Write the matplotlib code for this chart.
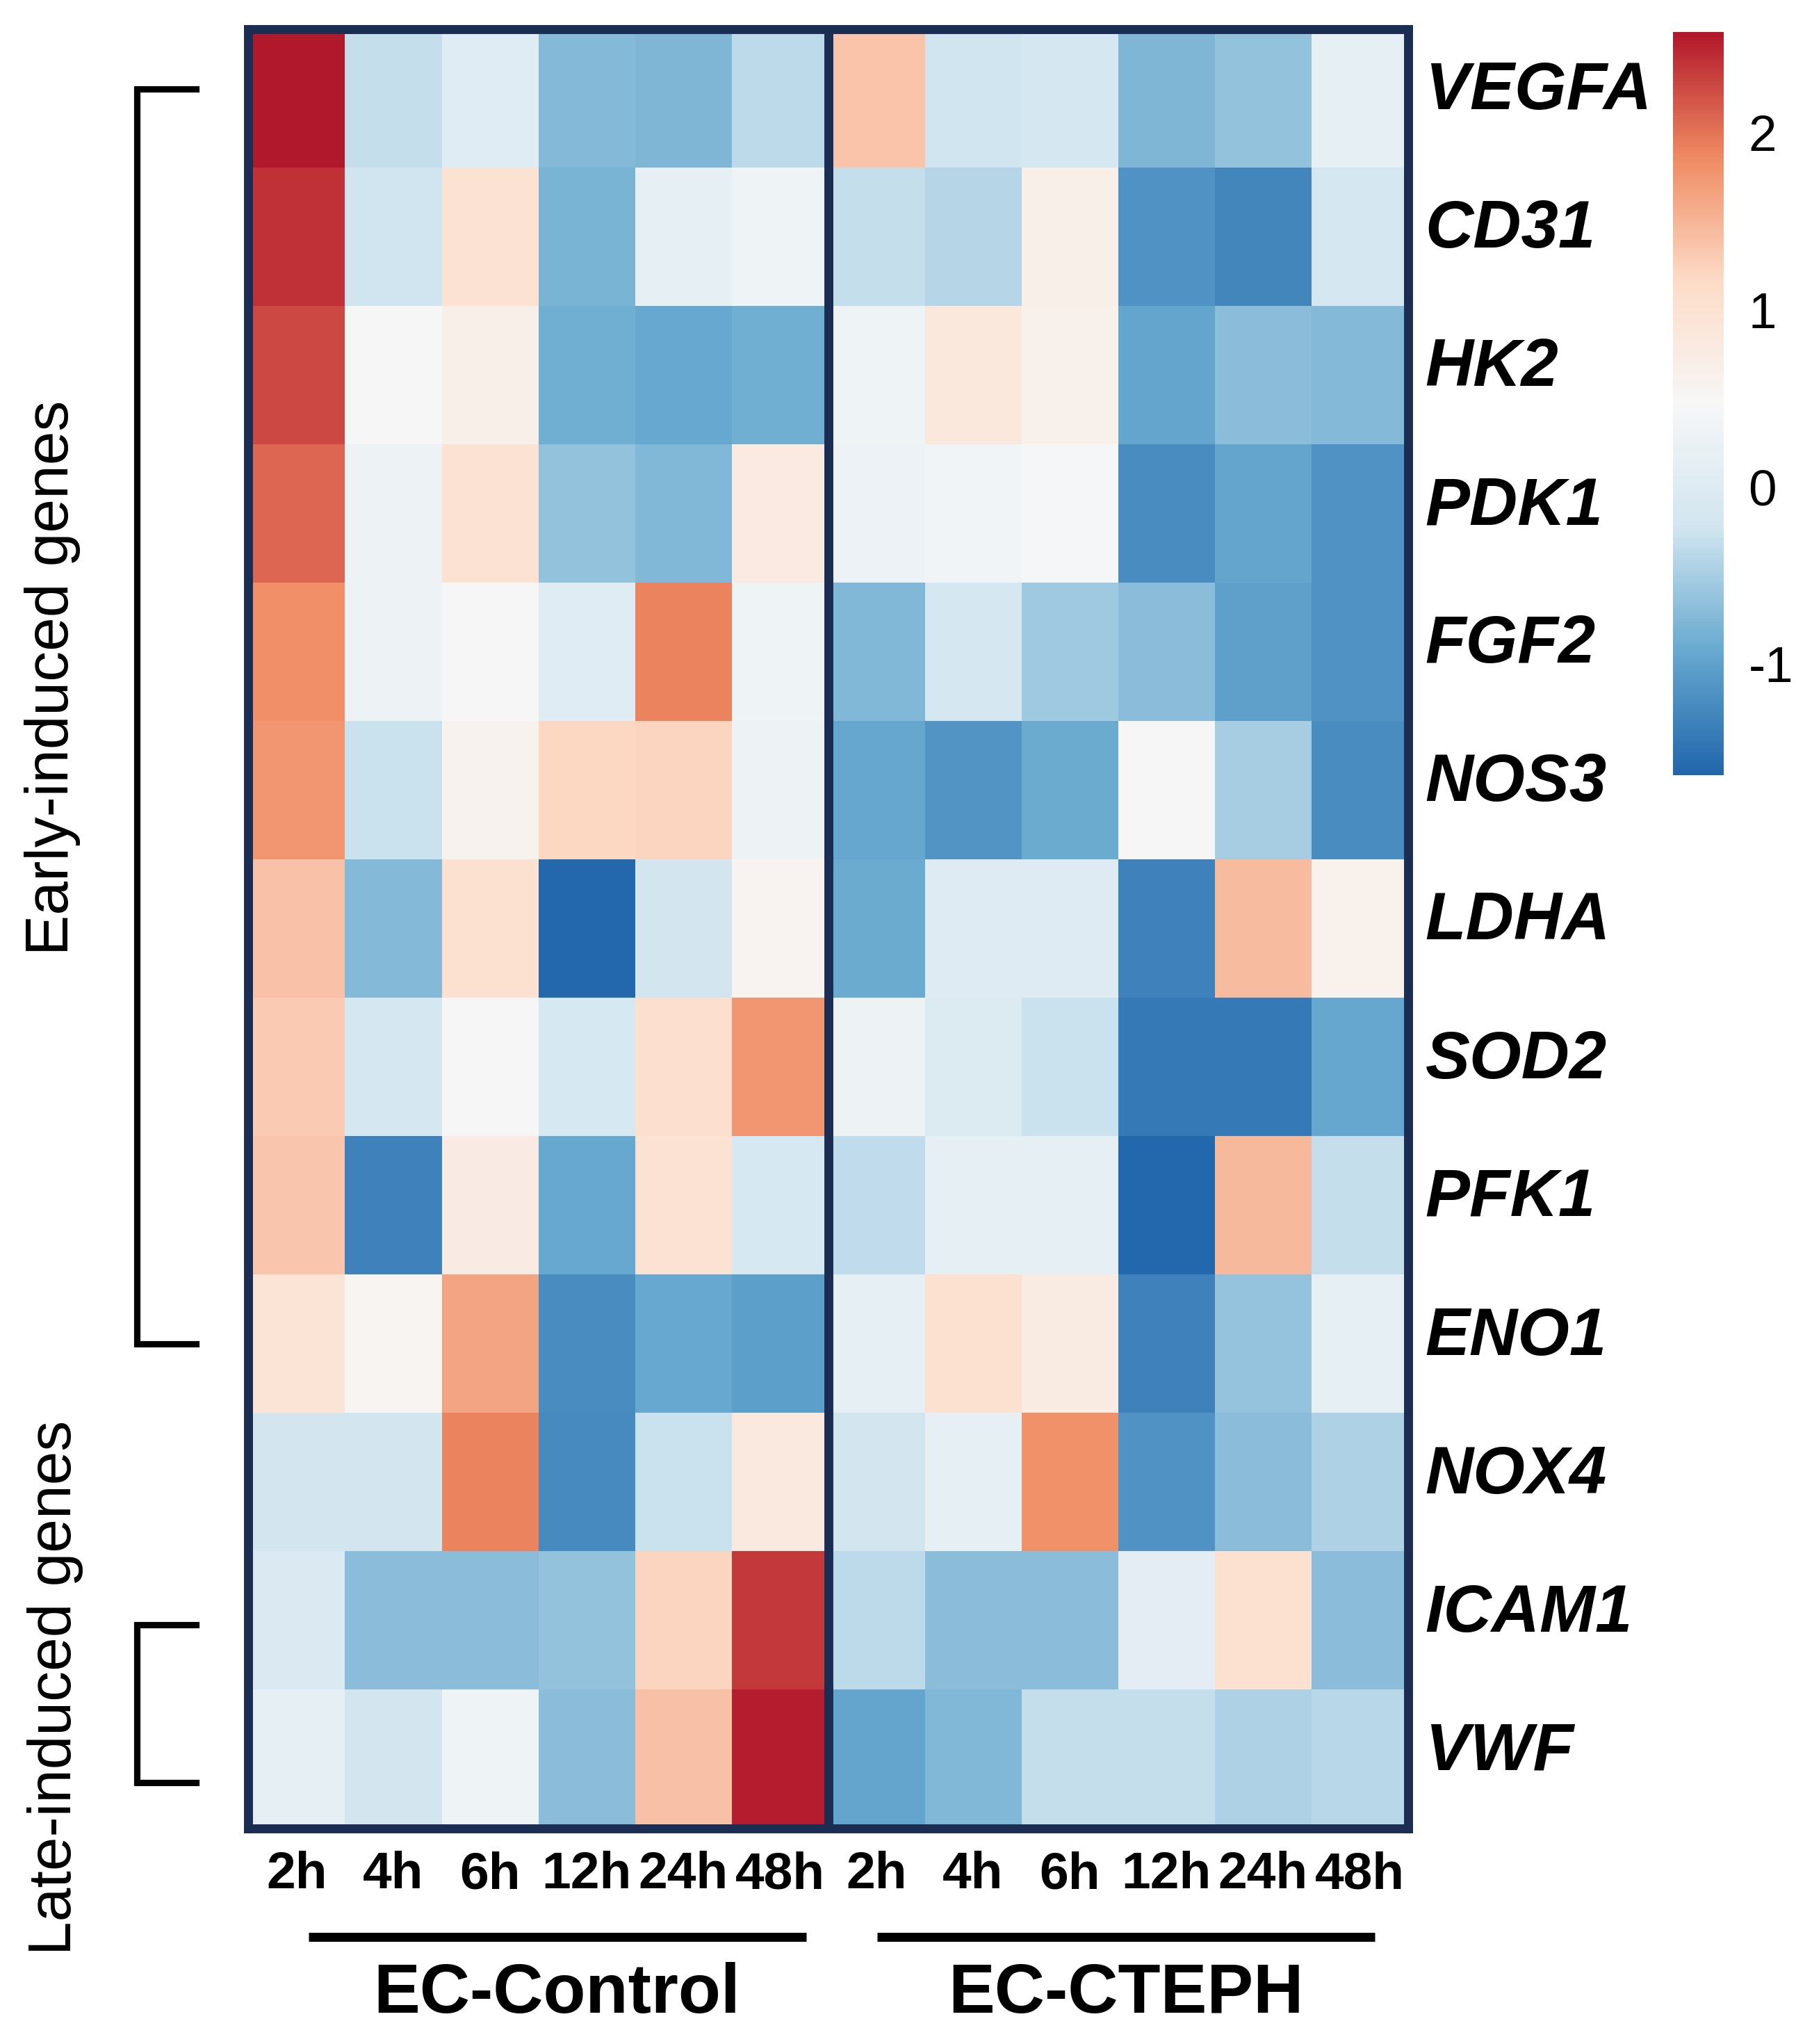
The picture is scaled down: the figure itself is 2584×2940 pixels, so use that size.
import matplotlib
matplotlib.use("Agg")
import matplotlib.pyplot as plt
import numpy as np
from matplotlib.colors import LinearSegmentedColormap, Normalize
from matplotlib.transforms import blended_transform_factory

plt.rcParams["font.family"] = ["Liberation Sans", "DejaVu Sans"]

genes = ["VEGFA", "CD31", "HK2", "PDK1", "FGF2", "NOS3", "LDHA",
         "SOD2", "PFK1", "ENO1", "NOX4", "ICAM1", "VWF"]
times = ["2h", "4h", "6h", "12h", "24h", "48h"]
groups = ["EC-Control", "EC-CTEPH"]

# z-scores, EC-Control 2h..48h, then EC-CTEPH 2h..48h
ec_control = [
    [2.57, -0.31, 0.03, -0.74, -0.77, -0.36],
    [2.41, -0.23, 1.00, -0.80, 0.16, 0.29],
    [2.26, 0.45, 0.67, -0.86, -0.94, -0.86],
    [2.09, 0.28, 1.00, -0.64, -0.76, 0.79],
    [1.83, 0.28, 0.45, 0.05, 1.90, 0.29],
    [1.76, -0.28, 0.60, 1.20, 1.22, 0.28],
    [1.38, -0.74, 1.02, -1.60, -0.20, 0.58],
    [1.31, -0.14, 0.45, -0.13, 1.07, 1.76],
    [1.35, -1.32, 0.75, -0.93, 0.98, -0.13],
    [0.95, 0.55, 1.65, -1.22, -0.93, -1.03],
    [-0.20, -0.20, 1.90, -1.25, -0.27, 0.82],
    [-0.05, -0.69, -0.69, -0.64, 1.22, 2.37],
    [0.16, -0.20, 0.30, -0.69, 1.40, 2.53],
]
ec_cteph = [
    [1.37, -0.23, -0.16, -0.77, -0.64, 0.16],
    [-0.31, -0.40, 0.67, -1.17, -1.29, -0.14],
    [0.30, 0.85, 0.65, -0.96, -0.69, -0.74],
    [0.27, 0.35, 0.43, -1.22, -0.96, -1.16],
    [-0.76, -0.14, -0.55, -0.69, -1.02, -1.16],
    [-0.95, -1.13, -0.90, 0.45, -0.51, -1.22],
    [-0.90, 0.00, 0.00, -1.33, 1.44, 0.63],
    [0.28, -0.03, -0.27, -1.43, -1.43, -0.95],
    [-0.35, 0.16, 0.16, -1.60, 1.47, -0.31],
    [0.16, 1.02, 0.77, -1.33, -0.62, 0.16],
    [-0.20, 0.16, 1.80, -1.17, -0.69, -0.45],
    [-0.36, -0.69, -0.69, 0.10, 1.02, -0.69],
    [-0.97, -0.76, -0.31, -0.31, -0.45, -0.39],
]
cbar_ticks = [-1, 0, 1, 2]

vmin, vmax = -1.63, 2.57
navy = "#1b2d52"

data = np.hstack([np.array(ec_control), np.array(ec_cteph)])
cmap = LinearSegmentedColormap.from_list(
    "rdbu7", ["#2166AC", "#67A9CF", "#D1E5F0", "#F7F7F7",
              "#FDDBC7", "#EF8A62", "#B2182B"])
norm = Normalize(vmin=vmin, vmax=vmax)

W, H = 2584, 2940
fig = plt.figure(figsize=(W / 300, H / 300), dpi=300)
ax = fig.add_axes([357.5 / W, 1 - 2629.5 / H, 1668 / W, 2588 / H])

mesh = ax.pcolormesh(data, cmap=cmap, norm=norm)
ax.set_xlim(0, data.shape[1])
ax.set_ylim(data.shape[0], 0)
for sp in ax.spines.values():
    sp.set_color(navy)
    sp.set_linewidth(3.1)
ax.axvline(6, color=navy, lw=3.1)
ax.set_xticks([])
ax.set_yticks([])

# gene labels on the right
for i, g in enumerate(genes):
    ax.text(12.18, i + 0.58, g, ha="left", va="baseline", fontsize=23,
            fontweight="bold", fontstyle="italic", clip_on=False)

# time labels and group labels below
tx = blended_transform_factory(ax.transData, fig.transFigure)
cols = times + times
for j, t in enumerate(cols):
    ax.text(j + 0.5, 1 - 2697 / H, t, ha="center", va="center",
            fontsize=18, fontweight="bold", transform=tx)
line_spans = [(0.62, 5.77), (6.51, 11.66)]
for (a, b), name in zip(line_spans, groups):
    ax.plot([a, b], [1 - 2786 / H] * 2, color="black", lw=3.1,
            transform=tx, clip_on=False, solid_capstyle="butt")
    ax.text((a + b) / 2, 1 - 2869 / H, name, ha="center", va="center",
            fontsize=24, fontweight="bold", transform=tx)

# brackets on the left
ty = blended_transform_factory(fig.transFigure, ax.transData)
xv, xa = 196.5 / W, 282 / W
for top, bot in [(0.435, 9.5), (11.53, 12.67)]:
    ax.plot([xa, xv, xv, xa], [top, top, bot, bot], color="black", lw=2.2,
            transform=ty, clip_on=False, solid_joinstyle="miter")
fig.text(76 / W, 1 - 975 / H, "Early-induced genes", rotation=90,
         ha="center", va="center", fontsize=21)
fig.text(80 / W, 1 - 2427 / H, "Late-induced genes", rotation=90,
         ha="center", va="center", fontsize=21)

# colorbar
cax = fig.add_axes([2407 / W, 1 - 1115 / H, 73 / W, 1069 / H])
cb = fig.colorbar(mesh, cax=cax, ticks=cbar_ticks)
cb.set_ticklabels([str(t) for t in cbar_ticks])
cb.outline.set_visible(False)
cax.tick_params(length=0, pad=8.5, labelsize=17.5)

fig.savefig("out.png", dpi=300)
